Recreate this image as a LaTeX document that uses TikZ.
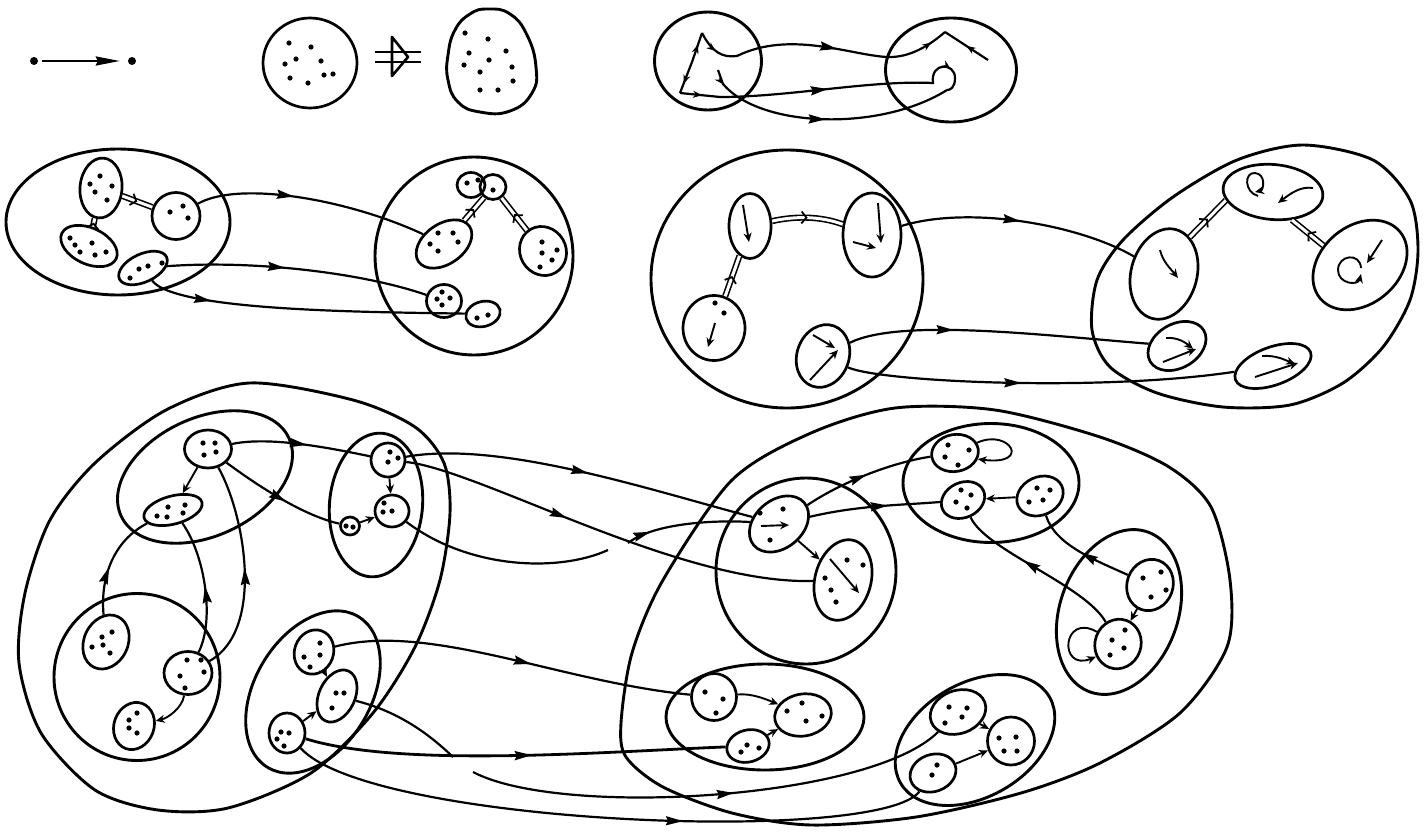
\documentclass[tikz,border=0pt]{standalone}
\usetikzlibrary{shapes.geometric, arrows.meta, decorations.markings}
\tikzset{
  cat/.style ={ellipse, draw, line width=2.9pt, inner sep=0pt},
  obj/.style ={ellipse, draw, line width=2.7pt, inner sep=0pt},
  sz/.style 2 args={minimum width=#1pt, minimum height=#2pt},
  vtx/.style ={circle, fill, inner sep=0pt, minimum size=8pt},
  rim/.style ={line width=2.9pt},
  fun/.style ={line width=2.2pt},
  fin/.style ={line width=1.9pt, -{Stealth[length=9pt,width=8pt]}},
  marr/.style={postaction={decorate, decoration={markings,
      mark=at position #1 with {\arrow{Stealth[length=17pt,width=9pt,inset=2pt]}}}}},
  marr/.default=0.5,
  sarr/.style={postaction={decorate, decoration={markings,
      mark=at position #1 with {\arrow{Stealth[length=9pt,width=7pt]}}}}},
  sarr/.default=0.5,
  dbl/.style ={double distance=3pt, line width=1.6pt},
  dtip/.style={postaction={decorate, decoration={markings,
      mark=at position #1 with {\arrow{Straight Barb[length=5pt,width=12pt,line width=1.8pt]}}}}},
  dtip/.default=0.5,
}
\newcommand\spots[1]{\foreach \x/\y in {#1} {\fill (\x,\y) circle[radius=2.6pt];}}

\begin{document}
\begin{tikzpicture}[x=1pt, y=-1pt]
  \path[use as bounding box, fill=white] (0,0) rectangle (1426,833);

  \node[vtx] (src) at (34,61) {};
  \node[vtx] (tgt) at (132,61) {};
  \draw[fun, -{Stealth[length=24pt,width=9pt,inset=2pt]}, shorten <=4pt, shorten >=8pt] (src) -- (tgt);

  \node[obj, sz={94}{90}] (set) at (310,63) {};
  \spots{289/43, 311/47, 296/59, 321/61, 285/64, 324/75, 333/74, 290/78, 308/83}
  \draw[rim] (375,52) -- (421,52) (375,62) -- (421,62);
  \draw[line width=2.6pt, line join=round] (392,37) -- (408,57) -- (392,76) -- cycle;
  \draw[rim] plot[smooth cycle, tension=.8] coordinates {(488,9) (510,14) (527,35) (536,67) (532,93) (510,111) (480,112) (458,102) (448,80) (448,55) (455,30) (470,14)};
  \spots{465/33, 488/39, 469/53, 506/51, 489/60, 464/65, 512/67, 480/72, 513/81, 480/90, 498/90}

  \node[cat, sz={107}{98}] (gA) at (708,61) {};
  \node[cat, sz={131}{104}] (gB) at (951,70) {};
  \coordinate (ga) at (702,33);
  \coordinate (gb) at (692,62);
  \coordinate (gc) at (680,93);
  \coordinate (gd) at (737,56);
  \coordinate (ge) at (720,97);
  \coordinate (gf) at (718,70);
  \coordinate (gg) at (945,32);
  \coordinate (gh) at (988,60);
  \coordinate (gi) at (947,90);
  \draw[fun, sarr=.6] (gb) -- (ga);
  \draw[fun, sarr=.7] (gb) -- (gc);
  \draw[fun, sarr=.5] (ga) .. controls (712,52) and (722,58) .. (gd);
  \draw[fun, sarr=.55] (gc) -- (ge);
  \draw[fun, marr=.47, sarr=.92] (gd) .. controls (790,30) and (850,55) .. (887,57) .. controls (910,58) and (930,45) .. (gg);
  \draw[fun, sarr=.5] (gh) -- (gg);
  \draw[fun, marr=.4, sarr=.9] (ge) .. controls (790,97) and (870,80) .. (933,83) .. controls (930,62) and (955,62) .. (955,78) .. controls (955,88) and (950,90) .. (gi);
  \draw[fun, sarr=.06, marr=.5] (gf) -- (723,84) .. controls (760,128) and (880,132) .. (gi);

  \node[cat, sz={224}{146}] (A2) at (118,222) {};
  \node[obj, sz={42}{60}, rotate=-5] (a) at (101,188) {};
  \node[obj, sz={48}{47}] (b) at (176,216) {};
  \node[obj, sz={60}{36}, rotate=-25] (c) at (89,246) {};
  \node[obj, sz={52}{28}, rotate=25] (d) at (143,268) {};
  \spots{100/176, 90/184, 112/186, 95/192, 107/200}
  \spots{170/212, 183/206, 188/218}
  \spots{70/238, 75/245, 92/243, 80/252, 95/255, 106/252}
  \spots{130/278, 139/269, 148/266, 162/263}
  \draw[dbl] (a) -- (b);  \path[dtip] (a) -- (b);
  \draw[dbl] (c) -- (a);  \path[dtip] (c) -- (a);

  \node[cat, sz={198}{198}] (B2) at (474,256) {};
  \node[obj, sz={28}{25}] (p1) at (471,185) {};
  \node[obj, sz={26}{25}] (p2) at (493,187) {};
  \node[obj, sz={62}{40}, rotate=35] (e) at (444,244) {};
  \node[obj, sz={46}{50}, rotate=30] (h) at (543,251) {};
  \node[obj, sz={35}{33}] (f) at (444,301) {};
  \node[obj, sz={35}{25}, rotate=15] (g) at (483,314) {};
  \spots{467/183, 478/180, 493/190}
  \spots{438/233, 453/233, 430/244, 458/242, 438/251}
  \spots{542/242, 542/253, 557/250, 552/260, 540/267}
  \spots{442/292, 437/299, 450/298, 442/305}
  \spots{477/318, 488/315}
  \draw[dbl] (e) -- (p2);  \path[dtip] (e) -- (p2);
  \draw[dbl] (h) -- (p2);  \path[dtip] (h) -- (p2);
  \draw[fun, marr=.42] (b) .. controls (240,180) and (350,200) .. (e);
  \draw[fun, marr=.45] (d) .. controls (250,260) and (360,272) .. (f);
  \draw[fun, marr=.2] (d) .. controls (175,312) and (380,312) .. (g);

  \node[cat, sz={272}{258}] (C2) at (787,279) {};
  \node[obj, sz={42}{65}] (i1) at (750,226) {};
  \node[obj, sz={58}{84}] (i2) at (872,235) {};
  \node[obj, sz={62}{65}] (i3) at (714,328) {};
  \node[obj, sz={52}{64}, rotate=-20] (i4) at (823,356) {};
  \draw[fin] (743,205) -- (749,242);
  \draw[fin] (878,203) -- (881,243);
  \draw[fin] (853,242) -- (876,248);
  \spots{715/303, 724/313}
  \draw[fin] (715,323) -- (708,347);
  \draw[fin] (810,380) -- (838,350);
  \draw[fin] (813,335) -- (835,348);
  \draw[dbl] (i1) .. controls (795,216) and (820,216) .. (i2);
  \path[dtip] (i1) .. controls (795,216) and (820,216) .. (i2);
  \draw[dbl] (i3) -- (i1);  \path[dtip] (i3) -- (i1);

  \draw[rim] plot[smooth cycle] coordinates {(1303,145) (1373,160) (1410,200) (1418,250) (1410,300) (1383,347) (1343,383) (1290,405) (1223,407) (1157,393) (1110,367) (1092,330) (1097,280) (1123,240) (1173,197) (1237,160)};
  \node[obj, sz={66}{92}, rotate=-15] (j1) at (1164,274) {};
  \node[obj, sz={100}{55}, rotate=-5] (j2) at (1273,192) {};
  \node[obj, sz={104}{78}, rotate=40] (j3) at (1360,265) {};
  \node[obj, sz={62}{44}, rotate=30] (j4) at (1177,346) {};
  \node[obj, sz={80}{38}, rotate=20] (j5) at (1273,366) {};
  \draw[fin] (1160,250) .. controls (1163,262) and (1170,268) .. (1178,278);
  \draw[fin] (1258,196) .. controls (1244,192) and (1244,172) .. (1255,173) .. controls (1266,174) and (1264,190) .. (1255,192);
  \draw[fin] (1313,188) .. controls (1300,186) and (1290,194) .. (1278,203);
  \draw[fin] (1382,240) -- (1367,263);
  \draw[fin] (1361,268) .. controls (1360,252) and (1338,255) .. (1338,270) .. controls (1338,284) and (1358,286) .. (1361,274);
  \draw[fin] (1163,362) -- (1196,349);
  \draw[fin] (1166,338) .. controls (1178,337) and (1186,343) .. (1193,349);
  \draw[fin] (1255,377) -- (1298,363);
  \draw[fin] (1262,356) .. controls (1276,355) and (1285,360) .. (1295,364);
  \draw[dbl] (j1.70) -- (j2.195);  \path[dtip] (j1.70) -- (j2.195);
  \draw[dbl] (j3.112) -- (j2.-51);  \path[dtip] (j3.112) -- (j2.-51);
  \draw[fun, marr=.5] (i2) .. controls (970,205) and (1080,225) .. (j1);
  \draw[fun, marr=.35] (i4) .. controls (900,318) and (1040,335) .. (j4);
  \draw[fun, marr=.45] (i4) .. controls (880,382) and (1100,392) .. (j5);

  \draw[rim] plot[smooth cycle] coordinates {(249,383) (353,400) (415,427) (444,463) (450,513) (440,580) (415,647) (373,713) (311,773) (228,808) (158,810) (95,790) (41,733) (19,663) (25,593) (50,520) (95,463) (166,410)};
  \node[cat, sz={185}{118}, rotate=25] (U) at (205,477) {};
  \node[cat, sz={166}{167}] (V) at (137,677) {};
  \node[cat, sz={93}{144}, rotate=-5] (W) at (376,505) {};
  \node[cat, sz={176}{116}, rotate=59] (X) at (313,692) {};
  \node[obj, sz={47}{38}] (u1) at (208,449) {};
  \node[obj, sz={60}{28}, rotate=15] (u2) at (173,510) {};
  \node[obj, sz={44}{56}, rotate=-25] (v1) at (106,642) {};
  \node[obj, sz={48}{43}] (v2) at (188,673) {};
  \node[obj, sz={40}{48}, rotate=-20] (v3) at (134,726) {};
  \node[obj, sz={34}{34}] (w1) at (388,460) {};
  \node[obj, sz={34}{32}] (w2) at (392,511) {};
  \node[obj, sz={19}{18}] (w3) at (350,526) {};
  \node[obj, sz={39}{45}, rotate=-20] (x1) at (314,652) {};
  \node[obj, sz={36}{55}, rotate=-25] (x2) at (337,696) {};
  \node[obj, sz={36}{40}] (x3) at (287,733) {};
  \spots{203/443, 215/443, 204/455, 216/452}
  \spots{157/516, 168/507, 167/517, 185/505, 183/513}
  \spots{102/637, 112/632, 92/647, 103/645, 110/653}
  \spots{187/660, 201/660, 180/676, 204/672, 185/688}
  \spots{137/713, 129/720, 129/728, 137/733}
  \spots{390/452, 388/462, 398/458}
  \spots{384/503, 383/512, 392/511}
  \spots{346/526, 353/527}
  \spots{320/643, 304/657, 320/655, 310/667}
  \spots{336/693, 344/693, 332/708}
  \spots{281/732, 289/733, 277/739, 284/746}
  \draw[fin] (u1) -- (u2);
  \draw[fin] (v2) .. controls (182,708) and (168,718) .. (v3);
  \draw[fin] (w1) -- (w2);
  \draw[fin] (w3) -- (w2);
  \draw[fin] (x1) -- (x2);
  \draw[fin] (x3) -- (x2);
  \draw[fun, marr=.45] (v1) .. controls (100,575) and (115,540) .. (u2);
  \draw[fun, marr=.5] (v2) .. controls (215,620) and (205,555) .. (u2);
  \draw[fun, marr=.5] (v2) .. controls (265,630) and (245,515) .. (u1);
  \draw[fun, marr=.54] (u1) .. controls (270,436) and (330,448) .. (w1);
  \draw[fun, marr=.55] (u1) .. controls (250,480) and (300,515) .. (w3);

  \draw[rim] plot[smooth cycle] coordinates {(621,723) (632,653) (663,580) (732,480) (811,433) (895,408) (995,410) (1100,437) (1169,467) (1211,507) (1230,580) (1227,647) (1180,713) (1100,763) (1021,793) (916,817) (811,825) (732,813) (663,787) (626,757)};
  \node[cat, sz={180}{186}] (M) at (806,571) {};
  \node[cat, sz={176}{119}] (N) at (991,483) {};
  \node[cat, sz={170}{118}, rotate=70] (O) at (1119,612) {};
  \node[cat, sz={198}{106}] (Q) at (765,717) {};
  \node[cat, sz={172}{114}, rotate=30] (R) at (975,740) {};
  \node[obj, sz={66}{48}, rotate=40] (m1) at (779,524) {};
  \node[obj, sz={56}{82}, rotate=-15] (m2) at (843,580) {};
  \node[obj, sz={47}{37}, rotate=10] (n1) at (955,453) {};
  \node[obj, sz={45}{35}, rotate=25] (n2) at (963,500) {};
  \node[obj, sz={48}{38}, rotate=25] (n3) at (1040,496) {};
  \node[obj, sz={46}{52}, rotate=-20] (o1) at (1150,585) {};
  \node[obj, sz={46}{50}, rotate=-20] (o2) at (1118,644) {};
  \node[obj, sz={45}{47}] (q1) at (714,697) {};
  \node[obj, sz={57}{42}, rotate=10] (q2) at (803,715) {};
  \node[obj, sz={43}{32}, rotate=15] (q3) at (748,746) {};
  \node[obj, sz={57}{43}, rotate=20] (r1) at (958,712) {};
  \node[obj, sz={47}{48}] (r2) at (1011,741) {};
  \node[obj, sz={47}{37}, rotate=20] (r3) at (933,773) {};
  \spots{760/513, 783/509, 770/540}
  \spots{847/560, 863/565, 825/578, 831/590, 836/602}
  \spots{948/445, 969/450, 945/457, 958/465}
  \spots{961/490, 971/495, 956/502, 967/508}
  \spots{1037/488, 1050/490, 1029/502, 1043/500}
  \spots{1161/572, 1143/578, 1166/590, 1151/597}
  \spots{1125/630, 1112/640, 1124/648, 1110/655}
  \spots{705/692, 723/699, 716/713}
  \spots{802/703, 787/711, 806/721, 822/716}
  \spots{747/745, 759/748, 741/752}
  \spots{949/707, 967/708, 962/717, 945/723}
  \spots{999/738, 1016/737, 1004/751, 1017/751}
  \spots{937/765, 932/775}
  \draw[fin] (761,526) -- (789,525);
  \draw[fin] (830,559) -- (859,593);
  \draw[fin] (m1) -- (m2);
  \draw[fin] (n1.15) .. controls (1010,428) and (1032,466) .. (n1.-25);
  \draw[fin] (n3) -- (n2);
  \draw[fin] (o1) -- (o2);
  \draw[fin] (o2.170) .. controls (1062,612) and (1058,672) .. (o2.230);
  \draw[fin] (q1) .. controls (752,693) and (768,700) .. (q2);
  \draw[fin] (q3) -- (q2);
  \draw[fin] (r1) -- (r2);
  \draw[fin] (r3) -- (r2);
  \draw[fun, marr=.5] (m1) .. controls (845,480) and (895,462) .. (n1);
  \draw[fun, marr=.6] (m1) .. controls (860,505) and (905,505) .. (n2);
  \draw[fun, marr=.5] (o1) .. controls (1095,560) and (1055,545) .. (n3);
  \draw[fun, marr=.6] (o2) .. controls (1085,585) and (985,550) .. (n2);

  \coordinate (k1) at (608,550);
  \coordinate (k2) at (628,543);
  \coordinate (k3) at (453,757);
  \coordinate (k4) at (473,772);
  \draw[fun, marr=.52] (w1) .. controls (500,440) and (650,490) .. (m1);
  \draw[fun, marr=.4] (w1) .. controls (480,470) and (680,585) .. (m2);
  \draw[fun] (w2) .. controls (470,570) and (560,572) .. (k1);
  \draw[fun, marr=.2] (k2) .. controls (655,522) and (720,520) .. (m1);
  \draw[fun, marr=.55] (x1) .. controls (430,622) and (560,682) .. (q1);
  \draw[fun, line width=2.8pt, marr=.54] (x3) .. controls (400,768) and (600,752) .. (q3);
  \draw[fun] (x2) .. controls (400,712) and (430,735) .. (k3);
  \draw[fun, marr=.55] (k4) .. controls (560,818) and (870,800) .. (r1);
  \draw[fun, marr=.62] (x3) .. controls (370,825) and (880,845) .. (r3);
\end{tikzpicture}
\end{document}
